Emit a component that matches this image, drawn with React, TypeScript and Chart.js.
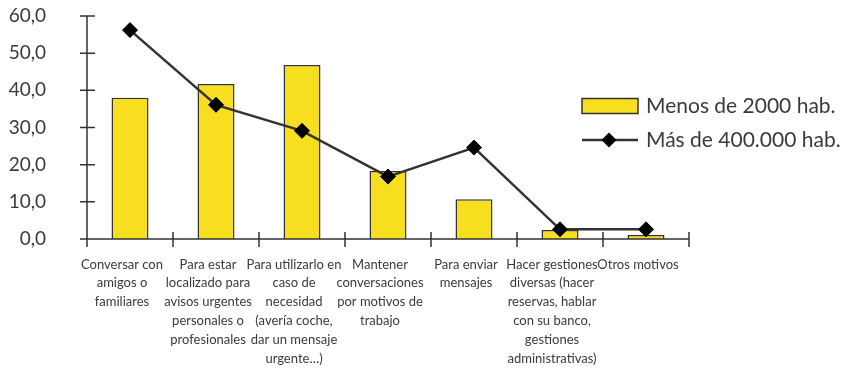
import React, { useEffect, useRef } from "react";
import { Chart, registerables } from "chart.js";

Chart.register(...registerables);

const categories: string[][] = [
  ["Conversar con", "amigos o", "familiares"],
  ["Para estar", "localizado para", "avisos urgentes", "personales o", "profesionales"],
  ["Para utilizarlo en", "caso de", "necesidad", "(avería coche,", "dar un mensaje", "urgente…)"],
  ["Mantener", "conversaciones", "por motivos de", "trabajo"],
  ["Para enviar", "mensajes"],
  ["Hacer gestiones", "diversas (hacer", "reservas, hablar", "con su banco,", "gestiones", "administrativas)"],
  ["Otros motivos"],
];

const seriesNames = ["Menos de 2000 hab.", "Más de 400.000 hab."];
const smallTowns = [38.0, 41.7, 46.8, 18.3, 10.7, 2.4, 1.1];
const bigCities = [56.2, 36.1, 29.1, 16.8, 24.6, 2.6, 2.6];
const yTicks = [0, 10, 20, 30, 40, 50, 60];

const FONT = "Lato, 'Open Sans', sans-serif";
const TEXT = "#3a3a3a";
const AXIS = "#333333";
const YELLOW = "#F7DF1F";

const axesPlugin = {
  id: "crossAxes",
  afterDatasetsDraw(chart: any) {
    const { ctx, chartArea } = chart;
    const x = chart.scales.x;
    const y = chart.scales.y;
    ctx.save();
    ctx.strokeStyle = AXIS;
    ctx.lineWidth = 1.5;
    ctx.beginPath();
    ctx.moveTo(chartArea.left, y.getPixelForValue(yTicks[yTicks.length - 1]));
    ctx.lineTo(chartArea.left, chartArea.bottom + 8);
    ctx.moveTo(chartArea.left - 7, chartArea.bottom);
    ctx.lineTo(chartArea.right, chartArea.bottom);
    yTicks.forEach((v) => {
      const py = y.getPixelForValue(v);
      ctx.moveTo(chartArea.left - 7, py);
      ctx.lineTo(chartArea.left + 8, py);
    });
    const n = categories.length;
    for (let i = 0; i <= n; i++) {
      let px;
      if (i === 0) px = chartArea.left;
      else if (i === n) px = chartArea.right;
      else px = (x.getPixelForValue(i - 1) + x.getPixelForValue(i)) / 2;
      ctx.moveTo(px, chartArea.bottom - 7);
      ctx.lineTo(px, chartArea.bottom + 8);
    }
    ctx.stroke();
    ctx.restore();
  },
  afterDraw(chart: any) {
    const { ctx, chartArea } = chart;
    const ds = chart.data.datasets;
    const bx = chartArea.right - 107;
    const y1 = 106;
    const y2 = 140;
    ctx.save();
    ctx.fillStyle = YELLOW;
    ctx.strokeStyle = AXIS;
    ctx.lineWidth = 1.5;
    ctx.fillRect(bx, y1 - 7.5, 56, 15);
    ctx.strokeRect(bx, y1 - 7.5, 56, 15);
    ctx.beginPath();
    ctx.moveTo(bx, y2);
    ctx.lineTo(bx + 56, y2);
    ctx.lineWidth = 2.5;
    ctx.stroke();
    ctx.fillStyle = "#000";
    const cx = bx + 27, r = 7.5;
    ctx.beginPath();
    ctx.moveTo(cx - r, y2);
    ctx.lineTo(cx, y2 - r);
    ctx.lineTo(cx + r, y2);
    ctx.lineTo(cx, y2 + r);
    ctx.closePath();
    ctx.fill();
    ctx.fillStyle = TEXT;
    ctx.font = `21px ${FONT}`;
    ctx.textBaseline = "middle";
    ctx.textAlign = "left";
    ctx.fillText(ds[0].label, bx + 64, y1);
    ctx.fillText(ds[1].label, bx + 64, y2);
    ctx.restore();
  },
};

export default function App() {
  const ref = useRef<HTMLCanvasElement>(null);
  useEffect(() => {
    if (!ref.current) return;
    const chart = new Chart(ref.current, {
      type: "bar",
      data: {
        labels: categories,
        datasets: [
          {
            type: "bar",
            label: seriesNames[0],
            data: smallTowns,
            backgroundColor: YELLOW,
            borderColor: AXIS,
            borderWidth: 1.5,
            barPercentage: 0.43,
            categoryPercentage: 1,
            order: 2,
          },
          {
            type: "line",
            label: seriesNames[1],
            data: bigCities,
            borderColor: AXIS,
            borderWidth: 2.5,
            pointStyle: "rectRot",
            pointRadius: 7.5,
            pointBackgroundColor: "#000",
            pointBorderColor: "#000",
            pointBorderWidth: 1,
            tension: 0,
            order: 1,
          },
        ],
      },
      options: {
        responsive: false,
        animation: false,
        layout: { padding: { left: 0, right: 157, top: 16, bottom: 0 } },
        plugins: { legend: { display: false }, tooltip: { enabled: false } },
        scales: {
          x: {
            offset: true,
            grid: { display: false, drawTicks: true, tickLength: 16 },
            border: { display: false },
            ticks: {
              autoSkip: false,
              maxRotation: 0,
              minRotation: 0,
              padding: 0,
              labelOffset: -8,
              color: TEXT,
              font: { family: FONT, size: 13, lineHeight: 1.45 },
            },
            afterFit: (s: any) => {
              s.height = 136;
            },
          },
          y: {
            min: 0,
            max: 60,
            grid: { display: false, drawTicks: true, tickLength: 41 },
            border: { display: false },
            ticks: {
              stepSize: 10,
              padding: 0,
              color: TEXT,
              font: { family: FONT, size: 19 },
              callback: (v: any) => Number(v).toFixed(1).replace(".", ","),
            },
            afterFit: (s: any) => {
              s.width = 87;
            },
          },
        },
      },
      plugins: [axesPlugin],
    });
    return () => chart.destroy();
  }, []);
  return (
    <div style={{ position: "absolute", left: 0, top: 0, width: 846, height: 375, background: "#fff" }}>
      <canvas ref={ref} width={846} height={375} />
    </div>
  );
}
